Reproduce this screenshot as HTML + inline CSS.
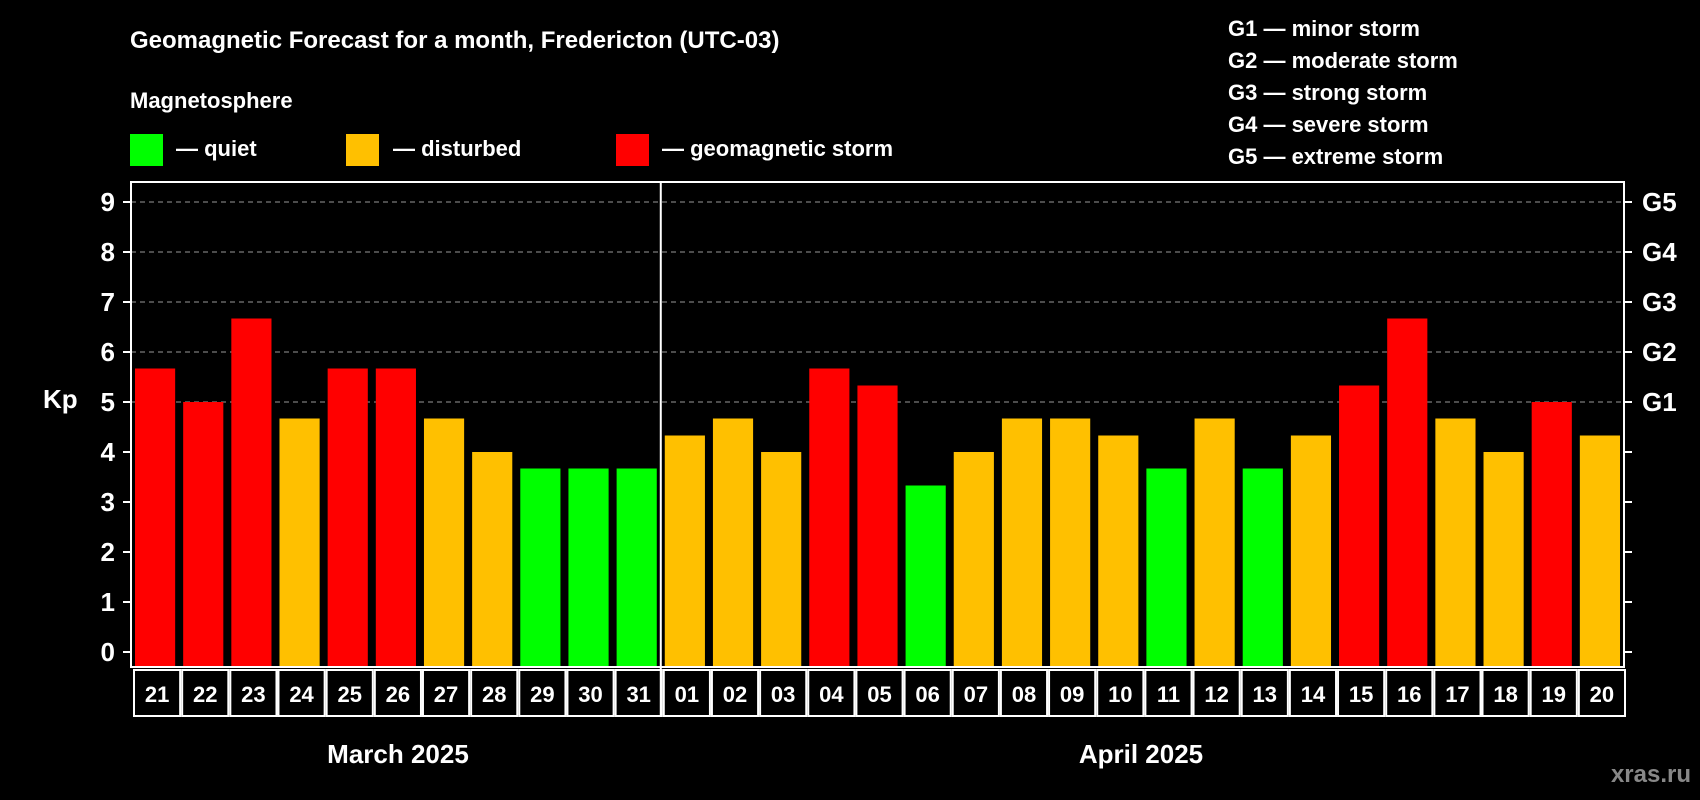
<!DOCTYPE html>
<html><head><meta charset="utf-8"><style>
html,body{margin:0;padding:0;background:#000;}
svg{display:block;font-family:"Liberation Sans",Arial,sans-serif;font-weight:bold;}
</style></head><body>
<svg id="chart" width="1700" height="800" viewBox="0 0 1700 800">
<rect width="1700" height="800" fill="#000"/>
<text x="130" y="48" fill="#fff" font-size="24">Geomagnetic Forecast for a month, Fredericton (UTC-03)</text>
<text x="130" y="108" fill="#fff" font-size="22">Magnetosphere</text>
<g><rect x="130" y="134" width="33" height="32" fill="#00ff00"/><text x="176" y="156" fill="#fff" font-size="22">— quiet</text></g>
<g><rect x="346" y="134" width="33" height="32" fill="#ffc000"/><text x="393" y="156" fill="#fff" font-size="22">— disturbed</text></g>
<g><rect x="616" y="134" width="33" height="32" fill="#ff0000"/><text x="662" y="156" fill="#fff" font-size="22">— geomagnetic storm</text></g>
<g fill="#fff" font-size="22">
<text x="1228" y="36">G1 — minor storm</text>
<text x="1228" y="68">G2 — moderate storm</text>
<text x="1228" y="100">G3 — strong storm</text>
<text x="1228" y="132">G4 — severe storm</text>
<text x="1228" y="164">G5 — extreme storm</text>
</g>
<text x="43" y="408" fill="#fff" font-size="26">Kp</text>
<text x="398" y="763" fill="#fff" font-size="26" text-anchor="middle">March 2025</text>
<text x="1141" y="763" fill="#fff" font-size="26" text-anchor="middle">April 2025</text>
<text x="1691" y="782" fill="#888" font-size="24" text-anchor="end">xras.ru</text>
<g id="plot"></g>
</svg>
<script>
const days = ["21","22","23","24","25","26","27","28","29","30","31","01","02","03","04","05","06","07","08","09","10","11","12","13","14","15","16","17","18","19","20"];
const kp = [5.67,5,6.67,4.67,5.67,5.67,4.67,4,3.67,3.67,3.67,4.33,4.67,4,5.67,5.33,3.33,4,4.67,4.67,4.33,3.67,4.67,3.67,4.33,5.33,6.67,4.67,4,5,4.33];
const yTicks = [0,1,2,3,4,5,6,7,8,9];
const gLabels = ["G1","G2","G3","G4","G5"];
const gLevels = [5,6,7,8,9];

const NS="http://www.w3.org/2000/svg";
const L=131,R=1624,T=182,B=667;
const slot=(R-L)/days.length;
const x=i=>L+i*slot;
const y=v=>652-50*v;
const g=document.getElementById('plot');
function mk(tag,a){const e=document.createElementNS(NS,tag);for(const k in a)e.setAttribute(k,a[k]);g.appendChild(e);return e;}
gLevels.forEach(v=>{
  const l=mk('line',{x1:L,x2:R,y1:y(v),y2:y(v),stroke:'#999','stroke-dasharray':'5,4','stroke-width':1});
  
  
});
kp.forEach((v,i)=>{
  const c=v>=5?'#ff0000':(v>=4?'#ffc000':'#00ff00');
  const r=mk('rect',{x:x(i)+4,y:y(v),width:slot-8,height:B-y(v),fill:c});
  
  
  const b=mk('rect',{x:x(i)+3,y:670,width:slot-2,height:46,fill:'none',stroke:'#fff','stroke-width':2});
  
  
  const t=mk('text',{x:x(i)+slot/2+2,y:702,fill:'#fff','font-size':22,'text-anchor':'middle'});
  t.textContent=days[i];
  
  
});
const frame=mk('rect',{x:L,y:T,width:R-L,height:B-T,fill:'none',stroke:'#fff','stroke-width':2});


const div=mk('line',{x1:x(11),x2:x(11),y1:T,y2:716,stroke:'#fff','stroke-width':2});


yTicks.forEach(v=>{
  mk('line',{x1:L-8,x2:L,y1:y(v),y2:y(v),stroke:'#fff','stroke-width':2});
  mk('line',{x1:R,x2:R+8,y1:y(v),y2:y(v),stroke:'#fff','stroke-width':2});
  const t=mk('text',{x:115,y:y(v)+9,fill:'#fff','font-size':26,'text-anchor':'end'});
  t.textContent=v;
  
  
});
gLabels.forEach((s,i)=>{
  const t=mk('text',{x:1642,y:y(gLevels[i])+9,fill:'#fff','font-size':26});
  t.textContent=s;
  
  
});
</script>
</body></html>
